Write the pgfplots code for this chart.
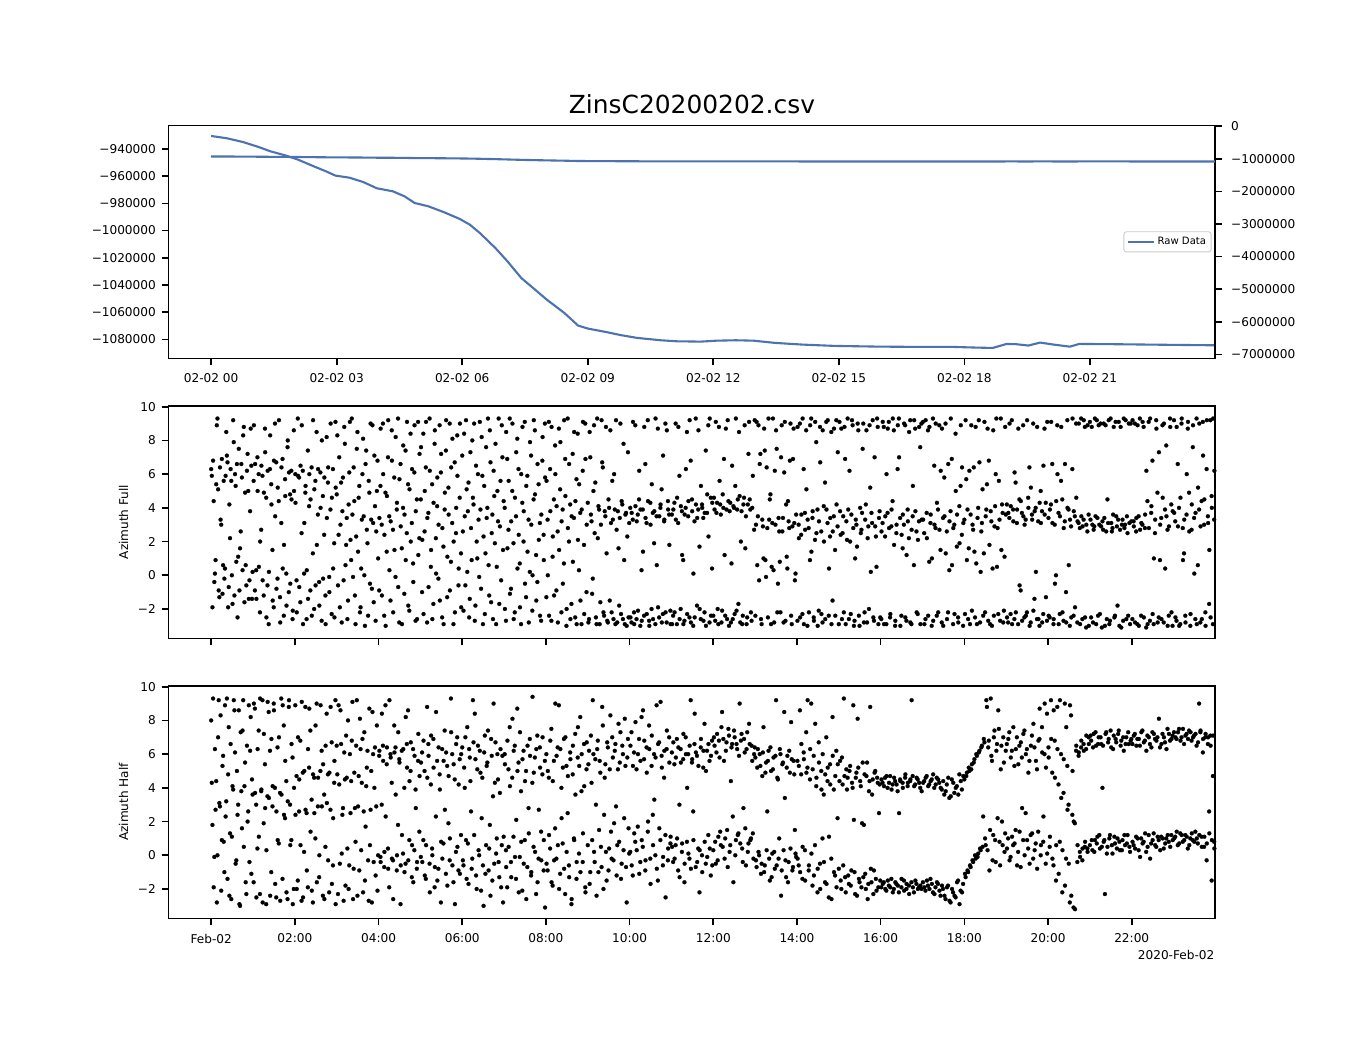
\documentclass[border=0pt]{standalone}
\usepackage{fontspec}
\setmainfont{DejaVu Sans}
\usepackage{pgfplots}
\usepackage{pgfplotstable}
\pgfplotsset{compat=1.18}
\definecolor{rawblue}{RGB}{76,114,176}
\newcommand\tickfont{\fontsize{12.1}{14}\selectfont}
\newcommand\titlefont{\fontsize{24.9}{28}\selectfont}
\newcommand\legfont{\fontsize{10.1}{12}\selectfont}

\pgfplotstableread{
h v
0 -930440
0.377 -932150
0.755 -934850
1.13 -938530
1.415 -941720
1.79 -944900
2.075 -947850
2.45 -952750
2.74 -956400
2.97 -959600
3.30 -961100
3.63 -964270
3.96 -968930
4.34 -971140
4.62 -974800
4.86 -979700
5.19 -982170
5.57 -986580
5.94 -991480
6.18 -995650
6.42 -1001780
6.79 -1012810
7.08 -1022620
7.41 -1034870
7.74 -1043460
8.02 -1050810
8.44 -1060620
8.77 -1069930
9.01 -1072140
9.43 -1074590
9.81 -1077040
10.19 -1079000
10.75 -1080720
11.13 -1081460
11.70 -1081700
12.08 -1081000
12.54 -1080700
12.96 -1081000
13.48 -1082650
14.14 -1083900
14.90 -1084850
15.94 -1085370
16.98 -1085600
17.73 -1085600
18.30 -1086100
18.68 -1086350
19.01 -1083400
19.24 -1083600
19.53 -1084600
19.81 -1082400
20.14 -1083900
20.52 -1085400
20.75 -1083400
21.60 -1083600
23.02 -1084100
23.99 -1084400
}\rawdata

\pgfplotsset{
  base/.style={
    scale only axis, width=1046.5pt,
    xmin=-1.02, xmax=23.99,
    axis line style={line width=1.6pt},
    tick style={line width=1.6pt, black},
    major tick length=7pt, tick align=outside,
    xtick pos=left,
    scaled x ticks=false, scaled y ticks=false,
    ticklabel style={font=\tickfont, inner sep=0pt},
    xticklabel style={anchor=north, yshift=-8.5pt},
  },
  leftax/.style={ytick pos=left, yticklabel style={anchor=east, xshift=-5.5pt}},
  dots/.style={only marks, mark=*, mark size=2pt, black, mark options={line width=0.2pt}},
}

\begin{document}
\begin{tikzpicture}
\path[use as bounding box, fill=white] (0,0) rectangle (1350pt,-1050pt);
\node[anchor=base, font=\titlefont, inner sep=0pt] at (692pt,-113.3pt) {ZinsC20200202.csv};

% ---------- top panel, left axis ----------
\begin{axis}[base, leftax, at={(168.5pt,-358.3pt)}, anchor=south west, height=233pt,
  ymin=-1093970, ymax=-922600,
  xtick={0,3,6,9,12,15,18,21},
  xticklabels={02-02 00,02-02 03,02-02 06,02-02 09,02-02 12,02-02 15,02-02 18,02-02 21},
  ytick={-940000,-960000,-980000,-1000000,-1020000,-1040000,-1060000,-1080000},
  yticklabels={−940000,−960000,−980000,−1000000,−1020000,−1040000,−1060000,−1080000}]
\addplot[rawblue, line width=2.1pt] table {\rawdata};
\end{axis}

% ---------- top panel, right axis ----------
\begin{axis}[scale only axis, width=1046.5pt, height=233pt, at={(168.5pt,-358.3pt)}, anchor=south west,
  xmin=-1.02, xmax=23.99, hide x axis, axis y line*=right,
  ymin=-7122700, ymax=25000, scaled y ticks=false,
  axis line style={line width=1.6pt}, tick style={line width=1.6pt, black},
  major tick length=7pt, tick align=outside,
  ytick={0,-1000000,-2000000,-3000000,-4000000,-5000000,-6000000,-7000000},
  yticklabels={0,−1000000,−2000000,−3000000,−4000000,−5000000,−6000000,−7000000},
  yticklabel style={font=\tickfont, inner sep=0pt, anchor=west, xshift=9pt},
  legend style={at={(0.9967,0.5)}, anchor=east, font=\legfont, draw=black!20, line width=0.9pt,
    rounded corners=2.5pt, fill=white, inner xsep=3pt, inner ysep=3.6pt},
  legend image code/.code={\draw[#1] (0pt,0pt) -- (21pt,0pt); \path (-0.5pt,0pt) -- (26pt,0pt);},
  legend cell align=left]
\addplot[rawblue, line width=2.1pt] table {\rawdata};
\addlegendentry{Raw Data}
\end{axis}

% ---------- middle panel ----------
\begin{axis}[base, leftax, at={(168.5pt,-638.3pt)}, anchor=south west, height=232.6pt,
  ymin=-3.74, ymax=10.06,
  xtick={0,2,4,6,8,10,12,14,16,18,20,22}, xticklabels={},
  ytick={-2,0,2,4,6,8,10}, yticklabels={−2,0,2,4,6,8,10}]
\addplot[dots] coordinates {
(0.00,6.3)(0.03,-1.9)(0.06,4.4)(0.09,0.1)(0.12,5.4)(0.15,9.3)(0.18,-0.9)(0.21,6.4)(0.24,3.0)(0.27,-1.1)(0.30,5.6)(0.33,0.4)(0.36,8.5)(0.39,6.7)(0.42,-0.7)(0.45,2.2)(0.48,5.6)(0.51,-1.7)(0.54,7.9)(0.57,6.0)(0.60,0.8)(0.63,-2.5)(0.66,7.5)(0.69,1.6)(0.72,6.6)(0.75,0.3)(0.78,8.8)(0.81,4.9)(0.84,-0.6)(0.87,7.2)(0.90,-1.4)(0.93,3.8)(0.96,6.5)(0.99,0.2)
(1.02,8.9)(1.05,6.6)(1.08,-1.4)(1.11,5.0)(1.14,0.5)(1.17,2.0)(1.20,6.5)(1.23,-0.3)(1.26,4.9)(1.29,7.3)(1.32,-2.5)(1.35,6.2)(1.38,0.2)(1.41,8.3)(1.44,4.2)(1.47,-1.5)(1.50,6.8)(1.53,3.5)(1.56,-0.8)(1.59,5.2)(1.62,9.2)(1.65,-2.8)(1.68,6.4)(1.71,0.4)(1.74,1.8)(1.77,4.7)(1.80,-1.8)(1.83,8.0)(1.86,6.1)(1.89,-0.5)(1.92,4.5)(1.95,-2.1)(1.98,5.0)
(2.01,6.0)(2.04,-0.3)(2.07,9.3)(2.10,5.8)(2.13,-1.6)(2.16,2.5)(2.19,6.2)(2.22,0.1)(2.25,4.9)(2.28,-2.6)(2.31,7.4)(2.34,4.1)(2.37,-0.9)(2.40,6.4)(2.43,1.3)(2.46,-2.0)(2.49,5.6)(2.52,8.5)(2.55,3.6)(2.58,-0.4)(2.61,6.1)(2.64,-2.7)(2.67,4.7)(2.70,2.4)(2.73,-1.2)(2.76,8.2)(2.79,5.5)(2.82,-0.1)(2.85,3.9)(2.88,-2.3)(2.91,6.3)(2.94,1.9)(2.97,9.1)
(3.00,4.8)(3.03,-0.6)(3.06,7.0)(3.09,3.0)(3.12,-2.8)(3.15,5.8)(3.18,8.8)(3.21,0.6)(3.24,3.4)(3.27,-1.5)(3.30,6.1)(3.33,2.1)(3.36,9.3)(3.39,-0.1)(3.42,4.4)(3.45,-2.9)(3.48,7.5)(3.51,1.4)(3.54,5.3)(3.57,-1.9)(3.60,3.3)(3.63,8.1)(3.66,0.0)(3.69,6.6)(3.72,2.7)(3.75,-2.4)(3.78,4.9)(3.81,9.0)(3.84,-0.8)(3.87,3.1)(3.90,7.1)(3.93,-2.7)(3.96,5.0)(3.99,1.0)
(4.02,3.4)(4.05,8.7)(4.08,-1.2)(4.11,6.0)(4.14,2.4)(4.17,-3.0)(4.20,4.7)(4.23,9.2)(4.26,0.3)(4.29,3.2)(4.32,6.8)(4.35,-2.2)(4.38,1.5)(4.41,8.2)(4.44,4.3)(4.47,-0.7)(4.50,5.7)(4.53,2.9)(4.56,-2.9)(4.59,7.7)(4.62,3.6)(4.65,0.9)(4.68,9.1)(4.71,-1.8)(4.74,5.1)(4.77,2.0)(4.80,6.3)(4.83,-0.4)(4.86,8.9)(4.89,3.8)(4.92,-2.6)(4.95,1.2)(4.98,7.2)
(5.01,4.5)(5.04,-1.0)(5.07,8.4)(5.10,2.6)(5.13,6.4)(5.16,-2.8)(5.19,3.7)(5.22,9.3)(5.25,0.5)(5.28,5.4)(5.31,-1.7)(5.34,7.8)(5.37,2.2)(5.40,4.1)(5.43,-0.2)(5.46,8.9)(5.49,6.1)(5.52,-2.5)(5.55,1.7)(5.58,3.9)(5.61,7.4)(5.64,-1.3)(5.67,5.2)(5.70,9.0)(5.73,0.8)(5.76,3.1)(5.79,-2.9)(5.82,6.7)(5.85,2.5)(5.88,8.3)(5.91,-0.6)(5.94,4.6)(5.97,1.3)
(6.00,7.1)(6.03,-2.1)(6.06,3.5)(6.09,9.2)(6.12,0.2)(6.15,5.5)(6.18,-1.4)(6.21,2.8)(6.24,8.0)(6.27,4.2)(6.30,-2.7)(6.33,6.5)(6.36,1.0)(6.39,3.3)(6.42,9.1)(6.45,-0.8)(6.48,5.9)(6.51,2.3)(6.54,-2.3)(6.57,7.6)(6.60,4.0)(6.63,0.6)(6.66,8.6)(6.69,-1.6)(6.72,3.6)(6.75,6.2)(6.78,1.9)(6.81,-2.9)(6.84,5.0)(6.87,9.3)(6.90,2.9)(6.93,-0.3)(6.96,7.0)(6.99,4.4)
(7.02,-2.0)(7.05,8.5)(7.08,1.6)(7.11,5.6)(7.14,-1.1)(7.17,3.2)(7.20,9.0)(7.23,-2.6)(7.26,4.6)(7.29,7.3)(7.32,0.4)(7.35,2.4)(7.38,-1.9)(7.41,6.0)(7.44,8.8)(7.47,3.8)(7.50,-0.5)(7.53,5.3)(7.56,1.4)(7.59,-2.8)(7.62,7.9)(7.65,3.0)(7.68,0.0)(7.71,9.2)(7.74,4.8)(7.77,-1.5)(7.80,6.6)(7.83,2.1)(7.86,-2.4)(7.89,3.6)(7.92,8.2)(7.95,0.9)(7.98,5.8)
(8.01,-1.3)(8.04,3.3)(8.07,9.1)(8.10,6.3)(8.13,-2.7)(8.16,1.1)(8.19,4.5)(8.22,7.7)(8.25,-0.9)(8.28,2.6)(8.31,8.7)(8.34,5.1)(8.37,-2.2)(8.40,3.9)(8.43,0.7)(8.46,6.9)(8.49,-3.0)(8.52,9.3)(8.55,2.0)(8.58,4.2)(8.61,-1.7)(8.64,7.2)(8.67,3.4)(8.70,-2.5)(8.73,5.7)(8.76,8.4)(8.79,0.3)(8.82,3.7)(8.85,-2.9)(8.88,6.2)(8.91,1.8)(8.94,9.0)(8.97,-1.0)
(9.00,4.3)(9.03,-2.6)(9.06,7.0)(9.09,3.2)(9.12,-0.2)(9.15,8.9)(9.18,5.5)(9.21,-2.9)(9.24,2.2)(9.27,3.9)(9.30,-1.6)(9.33,9.2)(9.36,6.4)(9.39,-2.4)(9.42,3.5)(9.45,1.3)(9.48,-2.8)(9.51,4.0)(9.54,8.6)(9.57,-2.2)(9.60,3.3)(9.63,6.0)(9.66,-2.9)(9.69,2.7)(9.72,3.8)(9.75,-1.8)(9.78,9.0)(9.81,4.4)(9.84,-2.6)(9.87,0.9)(9.90,3.6)(9.93,-3.0)(9.96,7.3)(9.99,3.1)
(10.02,-2.5)(10.05,3.7)(10.08,9.1)(10.11,-2.9)(10.14,4.1)(10.17,3.2)(10.20,-2.1)(10.23,6.2)(10.26,3.9)(10.29,-2.7)(10.32,1.4)(10.35,8.8)(10.38,3.4)(10.41,-2.3)(10.44,4.4)(10.47,-3.0)(10.50,3.0)(10.53,5.4)(10.56,-2.6)(10.59,3.8)(10.62,9.3)(10.65,0.6)(10.68,-1.9)(10.71,3.5)(10.74,4.2)(10.77,-2.8)(10.80,7.1)(10.83,3.3)(10.86,-2.2)(10.89,8.6)(10.92,3.9)(10.95,1.8)(10.98,-2.9)
(11.01,3.6)(11.04,-2.4)(11.07,4.3)(11.10,9.0)(11.13,-2.9)(11.16,3.1)(11.19,5.9)(11.22,-2.0)(11.25,3.8)(11.28,0.9)(11.31,-2.7)(11.34,4.0)(11.37,8.5)(11.40,3.5)(11.43,-2.5)(11.46,6.8)(11.49,4.5)(11.52,-3.0)(11.55,3.2)(11.58,9.3)(11.61,-1.8)(11.64,3.9)(11.67,1.7)(11.70,-2.6)(11.73,4.2)(11.76,3.4)(11.79,-2.2)(11.82,7.4)(11.85,3.7)(11.88,8.9)(11.91,-2.8)(11.94,4.6)(11.97,0.4)
(12.00,-2.4)(12.03,3.9)(12.06,9.1)(12.09,4.3)(12.12,-2.9)(12.15,5.6)(12.18,3.6)(12.21,-2.1)(12.24,4.0)(12.27,1.2)(12.30,8.7)(12.33,-2.6)(12.36,4.4)(12.39,3.8)(12.42,-2.8)(12.45,6.5)(12.48,4.1)(12.51,-2.3)(12.54,9.3)(12.57,3.9)(12.60,-1.7)(12.63,4.7)(12.66,2.0)(12.69,-2.9)(12.72,4.2)(12.75,8.9)(12.78,3.5)(12.81,-2.5)(12.84,7.2)(12.87,4.5)(12.90,-2.2)(12.93,4.0)
(12.99,9.2)(13.02,3.0)(13.05,0.6)(13.08,8.9)(13.11,6.6)(13.14,-2.6)(13.17,3.3)(13.20,1.0)(13.23,7.4)(13.26,-0.1)(13.29,2.8)(13.32,9.3)(13.35,4.5)(13.38,-2.9)(13.41,3.1)(13.44,0.3)(13.47,6.2)(13.50,8.6)(13.53,-2.2)(13.56,3.4)(13.59,0.8)(13.62,7.0)(13.65,2.6)(13.68,-2.8)(13.71,9.1)(13.74,4.2)(13.77,0.4)(13.80,3.2)(13.83,6.8)(13.86,-2.4)(13.89,2.9)(13.92,8.7)(13.95,-0.3)(13.98,3.6)
(14.01,-2.7)(14.04,3.0)(14.07,9.0)(14.10,2.4)(14.13,-2.3)(14.16,6.3)(14.19,3.7)(14.22,8.6)(14.25,-3.0)(14.28,2.8)(14.31,0.9)(14.34,9.3)(14.37,3.4)(14.40,-2.5)(14.43,2.1)(14.46,7.9)(14.49,3.9)(14.52,-2.1)(14.55,8.8)(14.58,2.6)(14.61,-2.8)(14.64,4.1)(14.67,5.5)(14.70,9.1)(14.73,3.1)(14.76,-2.4)(14.79,2.3)(14.82,8.5)(14.85,-1.5)(14.88,3.5)(14.91,1.5)(14.94,9.2)(14.97,2.9)
(15.00,-2.9)(15.03,3.8)(15.06,8.7)(15.09,2.5)(15.12,-2.2)(15.15,6.9)(15.18,3.2)(15.21,9.3)(15.24,-2.6)(15.27,2.0)(15.30,3.6)(15.33,8.9)(15.36,-3.0)(15.39,1.0)(15.42,3.0)(15.45,9.0)(15.48,-2.4)(15.51,4.0)(15.54,2.7)(15.57,7.5)(15.60,-2.8)(15.63,3.3)(15.66,8.6)(15.69,2.2)(15.72,-2.0)(15.75,5.2)(15.78,3.7)(15.81,9.2)(15.84,-2.7)(15.87,2.9)(15.90,0.5)(15.93,8.8)(15.96,3.4)(15.99,-2.5)
(16.02,2.6)(16.05,9.1)(16.08,-2.9)(16.11,3.5)(16.14,6.0)(16.17,8.7)(16.20,2.8)(16.23,-2.3)(16.26,3.9)(16.29,9.3)(16.32,1.8)(16.35,-2.7)(16.38,3.0)(16.41,8.9)(16.44,7.0)(16.47,-3.0)(16.50,2.4)(16.53,3.6)(16.56,9.0)(16.59,-2.5)(16.62,1.2)(16.65,3.2)(16.68,8.5)(16.71,-2.8)(16.74,2.7)(16.77,5.3)(16.80,9.2)(16.83,3.8)(16.86,-2.2)(16.89,2.1)(16.92,8.8)(16.95,-2.9)(16.98,3.3)
(17.01,9.1)(17.04,2.5)(17.07,-2.6)(17.10,3.7)(17.13,8.6)(17.16,0.8)(17.19,3.1)(17.22,-3.0)(17.25,9.3)(17.28,6.5)(17.31,2.8)(17.34,-2.4)(17.37,3.9)(17.40,8.9)(17.43,1.5)(17.46,-2.8)(17.49,3.4)(17.52,5.8)(17.55,9.0)(17.58,2.6)(17.61,-2.2)(17.64,0.3)(17.67,3.8)(17.70,6.9)(17.73,-2.9)(17.76,3.0)(17.79,8.4)(17.82,1.7)(17.85,-2.5)(17.88,4.1)(17.91,5.3)(17.94,2.4)(17.97,-3.0)
(18.00,3.3)(18.03,9.2)(18.06,0.9)(18.09,-2.6)(18.12,6.2)(18.15,3.6)(18.18,-2.1)(18.21,2.7)(18.24,1.4)(18.27,8.8)(18.30,-2.9)(18.33,4.0)(18.36,6.7)(18.39,0.2)(18.42,3.1)(18.45,-2.4)(18.48,9.1)(18.51,3.5)(18.54,5.4)(18.57,-2.7)(18.60,1.8)(18.63,3.8)(18.66,-3.0)(18.69,8.6)(18.72,2.9)(18.75,6.0)(18.78,0.5)(18.81,-2.3)(18.84,3.3)(18.87,9.3)(18.90,4.2)(18.93,-2.8)(18.96,1.1)(18.99,3.6)
(19.02,-2.5)(19.05,3.7)(19.08,9.0)(19.11,4.1)(19.14,-2.9)(19.17,3.2)(19.20,6.1)(19.23,-2.2)(19.26,3.9)(19.29,8.7)(19.32,-0.6)(19.35,4.4)(19.38,-2.7)(19.41,3.5)(19.44,3.0)(19.47,-2.4)(19.50,9.2)(19.53,4.0)(19.56,-3.0)(19.59,5.2)(19.62,3.3)(19.65,-2.1)(19.68,3.8)(19.71,0.2)(19.74,8.8)(19.77,-2.6)(19.80,4.3)(19.83,3.1)(19.86,-2.8)(19.89,6.5)(19.92,3.6)(19.95,-1.3)(19.98,9.1)
(20.01,3.4)(20.04,-2.5)(20.07,4.2)(20.10,6.6)(20.13,-2.9)(20.16,3.0)(20.19,0.0)(20.22,8.9)(20.25,3.7)(20.28,-2.3)(20.31,5.6)(20.34,4.5)(20.37,-2.7)(20.40,3.2)(20.43,-1.0)(20.46,9.2)(20.49,3.9)(20.52,-3.0)(20.55,2.9)(20.58,6.3)(20.61,-2.4)(20.64,3.5)(20.67,9.0)(20.70,-2.8)(20.73,3.1)(20.76,2.8)(20.79,9.3)(20.82,-2.6)(20.85,3.3)(20.88,8.8)(20.91,-3.1)(20.94,2.6)(20.97,3.6)
(21.00,9.1)(21.03,-2.5)(21.06,3.0)(21.09,2.7)(21.12,9.3)(21.15,-2.9)(21.18,3.4)(21.21,8.9)(21.24,-2.3)(21.27,2.9)(21.30,3.2)(21.33,9.0)(21.36,-3.0)(21.39,2.6)(21.42,4.5)(21.45,9.2)(21.48,-2.7)(21.51,3.1)(21.54,2.8)(21.57,8.8)(21.60,-2.4)(21.63,3.5)(21.66,-1.8)(21.69,9.1)(21.72,2.7)(21.75,-3.1)(21.78,3.3)(21.81,9.3)(21.84,3.0)(21.87,-2.6)(21.90,2.5)(21.93,9.0)(21.96,-2.9)(21.99,3.2)
(22.02,9.2)(22.05,2.9)(22.08,-2.8)(22.11,3.4)(22.14,8.9)(22.17,-3.0)(22.20,2.7)(22.23,3.1)(22.26,9.1)(22.29,-2.5)(22.32,3.6)(22.35,6.2)(22.38,-2.9)(22.41,2.8)(22.44,9.3)(22.47,4.1)(22.50,-2.3)(22.53,1.0)(22.56,3.3)(22.59,8.7)(22.62,-2.8)(22.65,7.3)(22.68,3.0)(22.71,-2.6)(22.74,4.6)(22.77,9.0)(22.80,0.4)(22.83,3.5)(22.86,-3.0)(22.89,2.9)(22.92,8.8)(22.95,-2.2)(22.98,3.8)
(23.01,9.2)(23.04,3.2)(23.07,-2.7)(23.10,6.6)(23.13,4.0)(23.16,-2.9)(23.19,9.0)(23.22,2.8)(23.25,1.3)(23.28,-2.4)(23.31,3.6)(23.34,8.7)(23.37,4.9)(23.40,-3.0)(23.43,2.7)(23.46,7.6)(23.49,3.4)(23.52,-2.6)(23.55,9.3)(23.58,0.6)(23.61,3.9)(23.64,-2.8)(23.67,4.4)(23.70,9.1)(23.73,3.0)(23.76,-2.2)(23.79,6.3)(23.82,3.5)(23.85,-1.7)(23.88,9.2)(23.91,4.7)(23.94,-2.9)(23.97,3.3)
};
\addplot[dots] coordinates {
(0.015,5.9)(0.045,6.8)(0.075,-0.4)(0.105,0.9)(0.135,8.9)(0.165,5.1)(0.195,-1.3)(0.225,3.3)(0.255,6.9)(0.285,0.6)(0.315,-0.2)(0.345,5.9)(0.375,7.1)(0.405,-1.9)(0.435,4.2)(0.465,6.3)(0.495,0.0)(0.525,9.2)(0.555,-1.2)(0.585,5.3)(0.615,6.6)(0.645,1.1)(0.675,-0.9)(0.705,2.6)(0.735,5.8)(0.765,8.3)(0.795,-1.6)(0.825,0.6)(0.855,6.2)(0.885,5.0)(0.915,-0.3)(0.945,8.7)(0.975,-1.4)
(1.015,5.6)(1.045,-0.9)(1.075,0.3)(1.105,7.0)(1.135,6.0)(1.165,-2.2)(1.195,2.7)(1.225,5.9)(1.255,-1.2)(1.285,8.7)(1.315,4.6)(1.345,-0.6)(1.375,-2.9)(1.405,6.3)(1.435,5.4)(1.465,1.5)(1.495,-1.9)(1.525,9.0)(1.555,6.7)(1.585,-0.2)(1.615,4.4)(1.645,-1.3)(1.675,3.1)(1.705,6.9)(1.735,-2.4)(1.765,5.7)(1.795,0.1)(1.825,7.6)(1.855,-1.0)(1.885,4.8)(1.915,6.2)(1.945,-2.6)(1.975,8.6)
(2.015,4.3)(2.045,-2.2)(2.075,5.9)(2.105,-0.7)(2.135,6.5)(2.165,8.9)(2.195,-2.9)(2.225,3.1)(2.255,5.3)(2.285,0.3)(2.315,-1.4)(2.345,6.0)(2.375,4.5)(2.405,-2.4)(2.435,9.2)(2.465,5.1)(2.495,-0.6)(2.525,1.8)(2.555,6.3)(2.585,-1.8)(2.615,4.0)(2.645,8.0)(2.675,-0.2)(2.705,5.8)(2.735,-2.9)(2.765,3.4)(2.795,6.4)(2.825,-1.0)(2.855,9.0)(2.885,4.6)(2.915,0.4)(2.945,-2.5)(2.975,5.2)
(3.015,8.3)(3.045,2.4)(3.075,-1.9)(3.105,5.5)(3.135,3.8)(3.165,-0.3)(3.195,7.8)(3.225,1.8)(3.255,-2.6)(3.285,4.2)(3.315,9.1)(3.345,0.9)(3.375,3.6)(3.405,6.4)(3.435,-1.2)(3.465,2.3)(3.495,8.5)(3.525,4.6)(3.555,-2.2)(3.585,0.4)(3.615,6.0)(3.645,3.5)(3.675,-3.0)(3.705,7.4)(3.735,1.9)(3.765,5.6)(3.795,-0.5)(3.825,3.3)(3.855,8.9)(3.885,-1.6)(3.915,4.1)(3.945,2.6)(3.975,6.8)
(4.015,-0.9)(4.045,5.3)(4.075,3.0)(4.105,9.0)(4.135,-2.4)(4.165,4.9)(4.195,1.4)(4.225,7.0)(4.255,3.5)(4.285,-1.5)(4.315,8.6)(4.345,2.7)(4.375,5.8)(4.405,-0.1)(4.435,3.9)(4.465,9.3)(4.495,-2.8)(4.525,6.6)(4.555,1.6)(4.585,4.0)(4.615,-1.1)(4.645,7.4)(4.675,2.5)(4.705,5.4)(4.735,-2.1)(4.765,8.4)(4.795,3.1)(4.825,0.7)(4.855,6.1)(4.885,-2.7)(4.915,4.5)(4.945,9.1)(4.975,2.2)
(5.015,7.6)(5.045,2.1)(5.075,-2.3)(5.105,5.0)(5.135,9.1)(5.165,3.4)(5.195,-0.7)(5.225,6.2)(5.255,1.5)(5.285,-2.6)(5.315,4.3)(5.345,8.6)(5.375,0.1)(5.405,5.8)(5.435,3.0)(5.465,-1.5)(5.495,7.2)(5.525,2.8)(5.555,-2.9)(5.585,4.9)(5.615,9.2)(5.645,1.1)(5.675,3.6)(5.705,-0.9)(5.735,6.4)(5.765,8.1)(5.795,2.0)(5.825,-2.2)(5.855,4.0)(5.885,5.9)(5.915,0.4)(5.945,9.0)(5.975,-1.9)
(6.015,2.6)(6.045,8.4)(6.075,-0.6)(6.105,5.1)(6.135,3.8)(6.165,-2.5)(6.195,7.3)(6.225,0.9)(6.255,4.6)(6.285,9.0)(6.315,-1.8)(6.345,2.0)(6.375,6.0)(6.405,-0.1)(6.435,3.9)(6.465,8.2)(6.495,-2.9)(6.525,5.3)(6.555,1.3)(6.585,3.4)(6.615,9.3)(6.645,-1.2)(6.675,6.7)(6.705,2.5)(6.735,-2.6)(6.765,4.7)(6.795,7.8)(6.825,0.5)(6.855,3.2)(6.885,-1.7)(6.915,5.6)(6.945,8.9)(6.975,1.5)
(7.015,4.0)(7.045,-2.7)(7.075,6.9)(7.105,2.7)(7.135,9.3)(7.165,-0.8)(7.195,5.0)(7.225,1.9)(7.255,-2.2)(7.285,3.5)(7.315,8.1)(7.345,6.3)(7.375,0.7)(7.405,-2.9)(7.435,4.3)(7.465,2.0)(7.495,9.1)(7.525,-1.3)(7.555,5.9)(7.585,3.3)(7.615,0.2)(7.645,7.1)(7.675,-2.1)(7.705,4.5)(7.735,8.6)(7.765,1.2)(7.795,-0.4)(7.825,5.4)(7.855,3.1)(7.885,-2.7)(7.915,6.8)(7.945,2.4)(7.975,9.0)
(8.015,5.6)(8.045,0.0)(8.075,-2.4)(8.105,3.8)(8.135,8.8)(8.165,2.3)(8.195,-1.2)(8.225,6.0)(8.255,4.1)(8.285,-2.8)(8.315,1.5)(8.345,7.9)(8.375,3.2)(8.405,-0.5)(8.435,9.2)(8.465,4.7)(8.495,-2.0)(8.525,2.8)(8.555,6.6)(8.585,-2.6)(8.615,3.5)(8.645,0.8)(8.675,8.5)(8.705,4.4)(8.735,-2.9)(8.765,2.1)(8.795,5.4)(8.825,-1.5)(8.855,3.9)(8.885,9.1)(8.915,-2.3)(8.945,6.9)(8.975,3.0)
(9.015,-2.8)(9.045,8.5)(9.075,3.6)(9.105,-1.1)(9.135,5.0)(9.165,2.5)(9.195,-2.5)(9.225,9.3)(9.255,4.1)(9.285,-2.9)(9.315,3.0)(9.345,6.7)(9.375,-2.2)(9.405,3.8)(9.435,8.8)(9.465,-2.7)(9.495,4.5)(9.525,-1.5)(9.555,3.1)(9.585,5.6)(9.615,-2.6)(9.645,3.9)(9.675,9.2)(9.705,-2.8)(9.735,1.6)(9.765,3.4)(9.795,-2.3)(9.825,4.2)(9.855,7.8)(9.885,-2.9)(9.915,3.7)(9.945,2.3)(9.975,-2.5)
(10.015,4.0)(10.045,-2.8)(10.075,3.3)(10.105,-2.2)(10.135,8.9)(10.165,-2.6)(10.195,3.6)(10.225,4.5)(10.255,-3.0)(10.285,0.3)(10.315,3.9)(10.345,-2.4)(10.375,6.6)(10.405,3.1)(10.435,9.2)(10.465,-2.7)(10.495,4.3)(10.525,-2.0)(10.555,3.7)(10.585,1.9)(10.615,-2.9)(10.645,3.5)(10.675,8.7)(10.705,-2.5)(10.735,4.0)(10.765,5.1)(10.795,-2.3)(10.825,3.2)(10.855,9.0)(10.885,-2.8)(10.915,4.4)(10.945,3.6)(10.975,-2.1)
(11.015,-2.9)(11.045,3.9)(11.075,-2.2)(11.105,3.3)(11.135,4.6)(11.165,8.8)(11.195,-2.6)(11.225,4.1)(11.255,1.2)(11.285,-2.9)(11.315,3.6)(11.345,6.3)(11.375,-2.3)(11.405,4.4)(11.435,9.2)(11.465,-2.8)(11.495,3.8)(11.525,0.1)(11.555,-2.5)(11.585,4.2)(11.615,3.4)(11.645,8.6)(11.675,-2.0)(11.705,5.3)(11.735,4.0)(11.765,-2.7)(11.795,3.7)(11.825,-3.0)(11.855,4.8)(11.885,2.3)(11.915,9.3)(11.945,-2.4)(11.975,4.3)
(12.015,4.6)(12.045,-2.7)(12.075,3.7)(12.105,-2.0)(12.135,8.8)(12.165,4.2)(12.195,-2.8)(12.225,4.8)(12.255,6.9)(12.285,-2.4)(12.315,3.9)(12.345,9.2)(12.375,-3.0)(12.405,4.3)(12.435,0.7)(12.465,-2.6)(12.495,4.0)(12.525,5.3)(12.555,-2.1)(12.585,4.5)(12.615,8.5)(12.645,-2.8)(12.675,3.8)(12.705,-2.4)(12.735,4.6)(12.765,1.6)(12.795,-2.9)(12.825,4.2)(12.855,9.1)(12.885,3.9)(12.915,-2.7)(12.945,5.9)
(12.975,2.7)(13.005,-2.4)(13.035,9.1)(13.065,3.5)(13.095,-0.3)(13.125,7.2)(13.155,-2.9)(13.185,2.9)(13.215,8.7)(13.245,0.9)(13.275,6.4)(13.305,-2.5)(13.335,3.3)(13.365,4.8)(13.395,0.5)(13.425,9.3)(13.455,-2.8)(13.485,3.0)(13.515,7.5)(13.545,-0.5)(13.575,2.6)(13.605,-2.2)(13.635,8.9)(13.665,3.4)(13.695,6.1)(13.725,-2.7)(13.755,1.1)(13.785,4.4)(13.815,2.8)(13.845,9.0)(13.875,-2.9)(13.905,6.9)(13.935,3.1)(13.965,0.1)
(14.015,8.8)(14.045,2.2)(14.075,-2.5)(14.105,3.6)(14.135,9.3)(14.165,-2.9)(14.195,2.7)(14.225,5.1)(14.255,3.3)(14.285,-2.2)(14.315,8.9)(14.345,1.4)(14.375,3.8)(14.405,-2.7)(14.435,9.1)(14.465,2.5)(14.495,-3.0)(14.525,3.2)(14.555,6.7)(14.585,-2.3)(14.615,8.6)(14.645,2.0)(14.675,-2.6)(14.705,3.9)(14.735,9.2)(14.765,0.4)(14.795,3.4)(14.825,-2.9)(14.855,2.6)(14.885,8.7)(14.915,-2.4)(14.945,4.2)(14.975,7.3)
(15.015,9.1)(15.045,2.4)(15.075,-2.6)(15.105,3.5)(15.135,8.8)(15.165,-2.9)(15.195,2.1)(15.225,3.9)(15.255,6.2)(15.285,-2.3)(15.315,9.2)(15.345,2.8)(15.375,-2.7)(15.405,3.3)(15.435,1.7)(15.465,8.6)(15.495,-3.0)(15.525,2.5)(15.555,3.7)(15.585,9.0)(15.615,-2.2)(15.645,4.2)(15.675,-2.8)(15.705,2.9)(15.735,8.9)(15.765,0.2)(15.795,3.1)(15.825,-2.5)(15.855,7.0)(15.885,2.3)(15.915,9.3)(15.945,-2.9)(15.975,3.8)
(16.015,-2.6)(16.045,3.1)(16.075,8.8)(16.105,2.3)(16.135,-2.9)(16.165,3.7)(16.195,9.1)(16.225,-2.5)(16.255,2.9)(16.285,4.4)(16.315,8.6)(16.345,-3.0)(16.375,2.5)(16.405,6.3)(16.435,9.3)(16.465,3.4)(16.495,-2.4)(16.525,1.6)(16.555,3.0)(16.585,8.9)(16.615,-2.7)(16.645,3.9)(16.675,2.2)(16.705,9.2)(16.735,-2.9)(16.765,3.5)(16.795,0.6)(16.825,8.7)(16.855,2.6)(16.885,-2.3)(16.915,3.2)(16.945,7.6)(16.975,9.0)
(17.015,3.3)(17.045,-2.9)(17.075,9.2)(17.105,2.2)(17.135,-2.4)(17.165,8.8)(17.195,3.6)(17.225,1.0)(17.255,-2.7)(17.285,3.0)(17.315,9.0)(17.345,4.3)(17.375,-2.2)(17.405,2.7)(17.435,6.2)(17.465,8.7)(17.495,-3.0)(17.525,3.5)(17.555,1.3)(17.585,-2.6)(17.615,6.6)(17.645,3.2)(17.675,9.3)(17.705,0.6)(17.735,2.8)(17.765,-2.3)(17.795,5.0)(17.825,3.6)(17.855,-2.8)(17.885,1.9)(17.915,8.9)(17.945,6.4)(17.975,3.1)
(18.015,-2.3)(18.045,5.7)(18.075,3.9)(18.105,1.6)(18.135,-2.9)(18.165,8.9)(18.195,3.0)(18.225,6.4)(18.255,-2.5)(18.285,0.7)(18.315,3.4)(18.345,9.2)(18.375,-2.8)(18.405,2.6)(18.435,5.1)(18.465,1.3)(18.495,-2.2)(18.525,3.9)(18.555,8.7)(18.585,6.8)(18.615,-2.9)(18.645,3.2)(18.675,0.4)(18.705,-2.4)(18.735,4.1)(18.765,9.3)(18.795,2.8)(18.825,5.6)(18.855,-2.7)(18.885,1.5)(18.915,3.7)(18.945,-2.1)(18.975,8.8)
(19.015,4.2)(19.045,-2.8)(19.075,3.4)(19.105,-2.3)(19.135,9.2)(19.165,3.9)(19.195,-2.6)(19.225,5.5)(19.255,3.1)(19.285,-2.9)(19.315,4.5)(19.345,-0.9)(19.375,3.7)(19.405,8.9)(19.435,-2.5)(19.465,3.3)(19.495,-2.2)(19.525,4.6)(19.555,6.4)(19.585,-2.8)(19.615,3.6)(19.645,9.0)(19.675,-1.4)(19.705,4.0)(19.735,-2.6)(19.765,3.2)(19.795,-3.0)(19.825,5.0)(19.855,3.8)(19.885,-2.3)(19.915,8.7)(19.945,4.3)(19.975,-2.7)
(20.015,-2.4)(20.045,3.9)(20.075,9.1)(20.105,3.1)(20.135,-2.6)(20.165,-0.5)(20.195,4.4)(20.225,6.0)(20.255,-2.9)(20.285,3.5)(20.315,8.8)(20.345,-2.2)(20.375,2.8)(20.405,6.6)(20.435,-2.8)(20.465,4.0)(20.495,0.6)(20.525,3.3)(20.555,-2.5)(20.585,9.3)(20.615,3.8)(20.645,-1.9)(20.675,4.6)(20.705,3.2)(20.735,9.0)(20.765,-2.9)(20.795,3.5)(20.825,2.9)(20.855,9.2)(20.885,-2.5)(20.915,3.0)(20.945,8.9)(20.975,-3.0)
(21.015,3.3)(21.045,8.8)(21.075,-2.8)(21.105,2.9)(21.135,3.5)(21.165,9.2)(21.195,-2.4)(21.225,3.0)(21.255,9.0)(21.285,-3.1)(21.315,2.7)(21.345,3.4)(21.375,8.9)(21.405,-2.6)(21.435,3.1)(21.465,-2.9)(21.495,9.3)(21.525,2.6)(21.555,3.6)(21.585,-2.5)(21.615,9.1)(21.645,2.9)(21.675,3.3)(21.705,-3.0)(21.735,8.8)(21.765,3.0)(21.795,-2.7)(21.825,2.8)(21.855,9.2)(21.885,3.5)(21.915,-2.4)(21.945,3.1)(21.975,9.0)
(22.015,-2.6)(22.045,3.2)(22.075,9.0)(22.105,2.6)(22.135,-2.9)(22.165,3.5)(22.195,9.3)(22.225,-2.4)(22.255,3.0)(22.285,8.8)(22.315,2.8)(22.345,-3.1)(22.375,4.4)(22.405,9.1)(22.435,-2.7)(22.465,3.7)(22.495,6.8)(22.525,-2.9)(22.555,2.5)(22.585,9.2)(22.615,4.9)(22.645,-2.5)(22.675,0.9)(22.705,3.4)(22.735,8.9)(22.765,-2.8)(22.795,3.9)(22.825,7.7)(22.855,2.7)(22.885,-2.4)(22.915,9.3)(22.945,4.2)(22.975,-3.0)
(23.015,3.7)(23.045,-2.5)(23.075,8.8)(23.105,2.9)(23.135,-3.0)(23.165,4.6)(23.195,9.3)(23.225,0.9)(23.255,3.3)(23.285,-2.8)(23.315,6.0)(23.345,9.1)(23.375,2.6)(23.405,-2.3)(23.435,4.2)(23.465,8.9)(23.495,0.1)(23.525,3.7)(23.555,-2.9)(23.585,5.2)(23.615,9.0)(23.645,2.9)(23.675,-2.6)(23.705,7.1)(23.735,4.5)(23.765,-3.0)(23.795,9.2)(23.825,3.1)(23.855,1.5)(23.885,-2.5)(23.915,4.0)(23.945,9.3)(23.975,6.2)
};
\end{axis}

% ---------- bottom panel ----------
\begin{axis}[base, leftax, at={(168.5pt,-918.3pt)}, anchor=south west, height=232.6pt,
  ymin=-3.74, ymax=10.06,
  xtick={0,2,4,6,8,10,12,14,16,18,20,22},
  xticklabels={Feb-02,02:00,04:00,06:00,08:00,10:00,12:00,14:00,16:00,18:00,20:00,22:00},
  ytick={-2,0,2,4,6,8,10}, yticklabels={−2,0,2,4,6,8,10}]
\addplot[dots] coordinates {
(0.00,8.0)(0.03,1.8)(0.06,-1.9)(0.09,6.3)(0.12,4.4)(0.15,0.0)(0.18,9.2)(0.21,2.9)(0.24,-2.1)(0.27,5.3)(0.30,0.8)(0.33,8.9)(0.36,3.2)(0.39,-1.4)(0.42,7.6)(0.45,1.3)(0.48,-2.6)(0.51,4.1)(0.54,9.2)(0.57,6.1)(0.60,-0.3)(0.63,2.4)(0.66,8.6)(0.69,-3.0)(0.72,3.8)(0.75,7.4)(0.78,0.5)(0.81,5.5)(0.84,-2.3)(0.87,2.0)(0.90,8.9)(0.93,6.2)(0.96,-1.1)(0.99,3.6)
(1.02,9.0)(1.05,3.7)(1.08,-2.5)(1.11,6.3)(1.14,1.1)(1.17,9.3)(1.20,3.9)(1.23,-2.8)(1.26,7.2)(1.29,2.8)(1.32,0.3)(1.35,9.1)(1.38,3.4)(1.41,-2.4)(1.44,6.9)(1.47,4.1)(1.50,8.6)(1.53,-1.7)(1.56,2.6)(1.59,0.9)(1.62,7.0)(1.65,-2.7)(1.68,3.6)(1.71,8.9)(1.74,2.4)(1.77,5.6)(1.80,-2.2)(1.83,3.2)(1.86,9.2)(1.89,0.6)(1.92,6.6)(1.95,-2.9)(1.98,4.0)
(2.01,8.9)(2.04,4.7)(2.07,-1.5)(2.10,2.6)(2.13,6.8)(2.16,-2.7)(2.19,4.9)(2.22,0.2)(2.25,8.8)(2.28,2.5)(2.31,-1.9)(2.34,5.2)(2.37,7.4)(2.40,3.3)(2.43,-2.8)(2.46,4.6)(2.49,1.0)(2.52,9.0)(2.55,2.9)(2.58,-1.3)(2.61,5.0)(2.64,6.2)(2.67,-2.4)(2.70,3.6)(2.73,0.5)(2.76,8.4)(2.79,4.8)(2.82,-2.2)(2.85,2.7)(2.88,6.7)(2.91,-0.6)(2.94,4.3)(2.97,9.2)
(3.00,6.5)(3.03,-2.3)(3.06,4.2)(3.09,8.6)(3.12,0.1)(3.15,2.8)(3.18,6.1)(3.21,-1.8)(3.24,4.6)(3.27,8.0)(3.30,-0.6)(3.33,2.5)(3.36,6.8)(3.39,-2.6)(3.42,4.9)(3.45,0.8)(3.48,9.2)(3.51,2.9)(3.54,-0.9)(3.57,6.3)(3.60,4.3)(3.63,-2.2)(3.66,7.3)(3.69,1.7)(3.72,5.2)(3.75,-0.3)(3.78,8.7)(3.81,2.7)(3.84,-2.8)(3.87,6.0)(3.90,4.0)(3.93,-1.2)(3.96,7.7)(3.99,0.0)
(4.02,6.2)(4.05,-0.4)(4.08,8.4)(4.11,5.6)(4.14,0.2)(4.17,2.3)(4.20,6.4)(4.23,-0.8)(4.26,9.2)(4.29,5.8)(4.32,-0.2)(4.35,-2.6)(4.38,6.1)(4.41,3.6)(4.44,0.0)(4.47,7.3)(4.50,5.5)(4.53,-0.6)(4.56,1.2)(4.59,6.3)(4.62,-1.0)(4.65,8.2)(4.68,5.2)(4.71,-0.3)(4.74,4.4)(4.77,6.7)(4.80,0.6)(4.83,-1.6)(4.86,5.9)(4.89,2.8)(4.92,-0.4)(4.95,7.2)(4.98,4.7)
(5.01,-0.1)(5.04,6.1)(5.07,0.9)(5.10,5.0)(5.13,-1.4)(5.16,8.8)(5.19,6.6)(5.22,-0.5)(5.25,4.2)(5.28,0.4)(5.31,6.9)(5.34,-1.9)(5.37,2.3)(5.40,5.6)(5.43,-0.8)(5.46,4.8)(5.49,-2.8)(5.52,6.3)(5.55,0.7)(5.58,7.4)(5.61,-1.1)(5.64,5.3)(5.67,1.9)(5.70,-0.3)(5.73,9.3)(5.76,6.0)(5.79,-1.6)(5.82,4.5)(5.85,0.2)(5.88,7.0)(5.91,-0.9)(5.94,5.7)(5.97,1.2)
(6.00,6.4)(6.03,-0.6)(6.06,4.0)(6.09,0.9)(6.12,7.6)(6.15,-1.7)(6.18,5.8)(6.21,2.6)(6.24,-0.2)(6.27,6.7)(6.30,8.4)(6.33,-1.2)(6.36,5.1)(6.39,0.3)(6.42,6.2)(6.45,-2.1)(6.48,4.6)(6.51,-3.0)(6.54,7.1)(6.57,0.6)(6.60,5.5)(6.63,-0.9)(6.66,1.8)(6.69,6.9)(6.72,-1.5)(6.75,9.0)(6.78,4.3)(6.81,0.1)(6.84,6.0)(6.87,-0.4)(6.90,3.7)(6.93,-1.9)(6.96,5.9)(6.99,1.1)
(7.02,5.4)(7.05,-0.7)(7.08,6.8)(7.11,0.5)(7.14,4.1)(7.17,-1.3)(7.20,8.1)(7.23,6.2)(7.26,-0.1)(7.29,2.1)(7.32,5.0)(7.35,-2.2)(7.38,7.3)(7.41,0.8)(7.44,5.7)(7.47,-0.5)(7.50,4.4)(7.53,-2.6)(7.56,6.5)(7.59,1.3)(7.62,5.9)(7.65,-1.0)(7.68,9.4)(7.71,4.9)(7.74,0.2)(7.77,6.3)(7.80,-1.6)(7.83,2.7)(7.86,5.2)(7.89,-0.3)(7.92,7.0)(7.95,0.9)(7.98,-3.1)
(8.01,6.0)(8.04,-0.9)(8.07,4.6)(8.10,0.4)(8.13,7.5)(8.16,-1.8)(8.19,5.6)(8.22,1.6)(8.25,-0.2)(8.28,6.4)(8.31,8.9)(8.34,-1.1)(8.37,4.0)(8.40,0.7)(8.43,6.9)(8.46,-2.3)(8.49,5.3)(8.52,2.5)(8.55,-0.6)(8.58,6.1)(8.61,-2.9)(8.64,4.8)(8.67,1.0)(8.70,7.2)(8.73,-1.4)(8.76,5.8)(8.79,0.1)(8.82,8.2)(8.85,3.8)(8.88,-0.4)(8.91,6.6)(8.94,-1.9)(8.97,5.1)
(9.00,0.6)(9.03,6.2)(9.06,-1.0)(9.09,4.3)(9.12,9.2)(9.15,0.2)(9.18,5.7)(9.21,-2.4)(9.24,6.8)(9.27,1.5)(9.30,4.9)(9.33,-0.7)(9.36,7.7)(9.39,2.4)(9.42,5.4)(9.45,-1.5)(9.48,6.4)(9.51,0.4)(9.54,8.3)(9.57,-0.2)(9.60,5.8)(9.63,1.9)(9.66,6.6)(9.69,-1.2)(9.72,5.1)(9.75,0.8)(9.78,7.3)(9.81,-0.5)(9.84,6.0)(9.87,2.2)(9.90,5.3)(9.93,-2.8)(9.96,6.9)(9.99,0.1)
(10.02,6.5)(10.05,-0.6)(10.08,5.3)(10.11,1.3)(10.14,7.9)(10.17,0.3)(10.20,6.0)(10.23,-1.1)(10.26,5.6)(10.29,0.9)(10.32,8.6)(10.35,6.8)(10.38,-0.3)(10.41,4.9)(10.44,2.0)(10.47,6.3)(10.50,-1.7)(10.53,7.1)(10.56,0.6)(10.59,3.3)(10.62,5.8)(10.65,-0.8)(10.68,6.6)(10.71,1.6)(10.74,9.1)(10.77,5.2)(10.80,-0.1)(10.83,6.2)(10.86,-2.5)(10.89,7.4)(10.92,0.4)(10.95,5.5)(10.98,1.1)
(11.01,6.1)(11.04,-0.4)(11.07,5.4)(11.10,0.6)(11.13,6.9)(11.16,-0.9)(11.19,3.0)(11.22,6.3)(11.25,0.2)(11.28,5.7)(11.31,-1.6)(11.34,7.0)(11.37,0.8)(11.40,6.0)(11.43,-0.2)(11.46,9.2)(11.49,5.5)(11.52,2.6)(11.55,6.6)(11.58,-0.7)(11.61,5.9)(11.64,0.4)(11.67,-2.2)(11.70,6.4)(11.73,0.0)(11.76,5.2)(11.79,7.8)(11.82,-0.5)(11.85,6.2)(11.88,1.2)(11.91,5.6)(11.94,-1.2)(11.97,6.8)
(12.00,0.3)(12.03,6.5)(12.06,-0.5)(12.09,7.2)(12.12,1.1)(12.15,5.8)(12.18,0.6)(12.21,8.5)(12.24,6.9)(12.27,-0.2)(12.30,6.2)(12.33,1.5)(12.36,7.5)(12.39,0.2)(12.42,4.4)(12.45,6.6)(12.48,-1.6)(12.51,7.0)(12.54,0.9)(12.57,6.3)(12.60,1.3)(12.63,9.0)(12.66,6.8)(12.69,0.4)(12.72,2.8)(12.75,6.1)(12.78,-0.6)(12.81,7.3)(12.84,0.7)(12.87,6.6)(12.90,1.0)(12.93,5.6)(12.96,-0.2)
(12.99,6.4)(13.02,-0.3)(13.05,5.2)(13.08,0.2)(13.11,6.0)(13.14,-1.1)(13.17,4.7)(13.20,7.6)(13.23,-0.6)(13.26,5.5)(13.29,2.6)(13.32,6.2)(13.35,-1.5)(13.38,5.0)(13.41,0.1)(13.44,5.8)(13.47,-0.8)(13.50,9.2)(13.53,4.6)(13.56,-0.2)(13.59,6.3)(13.62,-2.4)(13.65,5.4)(13.68,0.3)(13.71,3.4)(13.74,-1.3)(13.77,5.9)(13.80,-0.4)(13.83,4.9)(13.86,7.9)(13.89,-0.9)(13.92,5.6)(13.95,1.5)(13.98,-0.1)
(14.01,5.6)(14.04,-0.6)(14.07,8.6)(14.10,4.8)(14.13,-1.4)(14.16,6.1)(14.19,0.3)(14.22,7.3)(14.25,5.2)(14.28,-0.9)(14.31,4.5)(14.34,9.0)(14.37,-1.8)(14.40,5.9)(14.43,0.6)(14.46,4.1)(14.49,-2.2)(14.52,6.7)(14.55,-0.5)(14.58,5.0)(14.61,1.0)(14.64,3.6)(14.67,-1.6)(14.70,7.0)(14.73,4.4)(14.76,-2.5)(14.79,5.4)(14.82,-0.2)(14.85,8.2)(14.88,3.9)(14.91,-1.2)(14.94,6.2)(14.97,2.2)
(15.00,-0.8)(15.03,5.6)(15.06,-2.0)(15.09,4.2)(15.12,9.3)(15.15,-1.3)(15.18,5.1)(15.21,4.6)(15.24,-1.7)(15.27,5.3)(15.30,-0.9)(15.33,4.0)(15.36,2.1)(15.39,-2.3)(15.42,4.9)(15.45,8.1)(15.48,-1.4)(15.51,4.4)(15.54,-1.9)(15.57,5.5)(15.60,1.8)(15.63,-1.1)(15.66,4.7)(15.69,-2.6)(15.72,3.8)(15.75,8.8)(15.78,-1.6)(15.81,4.5)(15.84,-0.9)(15.87,5.0)(15.90,-2.1)(15.93,4.3)(15.96,2.5)(15.99,-1.5)
(16.02,4.5)(16.05,-1.7)(16.08,4.1)(16.11,-2.0)(16.14,4.7)(16.17,-1.5)(16.20,4.3)(16.23,-1.9)(16.26,3.9)(16.29,-2.2)(16.32,4.6)(16.35,-1.6)(16.38,4.2)(16.41,-1.8)(16.44,2.5)(16.47,4.4)(16.50,-1.4)(16.53,4.0)(16.56,-2.1)(16.59,4.8)(16.62,-1.7)(16.65,4.3)(16.68,-2.3)(16.71,4.5)(16.74,9.2)(16.77,-1.9)(16.80,4.1)(16.83,-1.5)(16.86,4.6)(16.89,-2.0)(16.92,4.3)(16.95,-1.8)(16.98,3.8)
(17.01,-1.6)(17.04,4.4)(17.07,-2.1)(17.10,4.7)(17.13,-1.8)(17.16,4.2)(17.19,-1.4)(17.22,4.5)(17.25,-2.2)(17.28,4.0)(17.31,-1.9)(17.34,4.6)(17.37,-1.7)(17.40,4.3)(17.43,-2.4)(17.46,3.9)(17.49,-2.0)(17.52,3.6)(17.55,-2.6)(17.58,4.2)(17.61,-1.8)(17.64,3.4)(17.67,-2.8)(17.70,4.5)(17.73,-2.2)(17.76,3.7)(17.79,-2.5)(17.82,4.1)(17.85,-1.5)(17.88,4.8)(17.91,-2.1)(17.94,3.9)(17.97,-1.7)
(18.00,4.5)(18.03,-1.3)(18.06,4.9)(18.09,-1.0)(18.12,5.0)(18.15,-0.7)(18.18,5.4)(18.21,-0.4)(18.24,5.7)(18.27,-0.2)(18.30,5.9)(18.33,0.1)(18.36,6.2)(18.39,0.3)(18.42,6.5)(18.45,2.3)(18.48,6.7)(18.51,0.6)(18.54,8.8)(18.57,6.4)(18.60,-0.9)(18.63,9.3)(18.66,5.6)(18.69,1.2)(18.72,7.4)(18.75,-0.4)(18.78,6.6)(18.81,8.6)(18.84,0.8)(18.87,5.1)(18.90,2.0)(18.93,7.0)(18.96,0.2)(18.99,6.2)
(19.02,0.4)(19.05,6.9)(19.08,-0.3)(19.11,5.8)(19.14,1.1)(19.17,7.6)(19.20,0.7)(19.23,6.3)(19.26,-0.6)(19.29,5.4)(19.32,1.4)(19.35,6.7)(19.38,2.8)(19.41,7.2)(19.44,0.0)(19.47,6.0)(19.50,0.9)(19.53,4.9)(19.56,-0.5)(19.59,6.5)(19.62,1.3)(19.65,7.8)(19.68,0.3)(19.71,5.6)(19.74,-0.8)(19.77,6.8)(19.80,8.7)(19.83,0.6)(19.86,6.1)(19.89,2.3)(19.92,9.0)(19.95,5.2)(19.98,0.1)
(20.01,6.4)(20.04,0.5)(20.07,9.2)(20.10,4.9)(20.13,-0.6)(20.16,6.8)(20.19,-1.5)(20.22,8.8)(20.25,4.2)(20.28,0.8)(20.31,6.0)(20.34,-2.2)(20.37,3.7)(20.40,9.0)(20.43,-0.2)(20.46,5.3)(20.49,3.0)(20.52,-2.8)(20.55,8.3)(20.58,2.4)(20.61,-3.1)(20.64,1.9)(20.67,6.2)(20.70,-0.4)(20.73,5.9)(20.76,0.2)(20.79,6.4)(20.82,-0.3)(20.85,6.6)(20.88,0.5)(20.91,6.3)(20.94,0.4)(20.97,7.0)
(21.00,0.6)(21.03,6.8)(21.06,0.3)(21.09,7.2)(21.12,0.9)(21.15,6.5)(21.18,1.1)(21.21,7.0)(21.24,0.4)(21.27,6.6)(21.30,4.0)(21.33,0.8)(21.36,-2.3)(21.39,7.3)(21.42,0.5)(21.45,6.9)(21.48,1.2)(21.51,6.4)(21.54,0.1)(21.57,7.1)(21.60,0.7)(21.63,6.7)(21.66,1.0)(21.69,7.4)(21.72,0.3)(21.75,6.8)(21.78,0.9)(21.81,6.2)(21.84,0.6)(21.87,7.0)(21.90,1.2)(21.93,6.6)(21.96,0.2)(21.99,6.9)
(22.02,0.8)(22.05,7.1)(22.08,0.4)(22.11,6.5)(22.14,1.0)(22.17,6.9)(22.20,-0.1)(22.23,7.3)(22.26,0.7)(22.29,6.7)(22.32,1.3)(22.35,6.2)(22.38,0.5)(22.41,7.0)(22.44,-0.2)(22.47,6.4)(22.50,0.9)(22.53,7.2)(22.56,0.6)(22.59,6.8)(22.62,1.1)(22.65,8.1)(22.68,0.3)(22.71,6.6)(22.74,1.0)(22.77,7.0)(22.80,0.7)(22.83,6.3)(22.86,1.2)(22.89,7.2)(22.92,0.5)(22.95,6.9)(22.98,0.9)
(23.01,7.3)(23.04,1.1)(23.07,6.9)(23.10,0.6)(23.13,7.5)(23.16,1.3)(23.19,7.0)(23.22,0.8)(23.25,6.6)(23.28,1.2)(23.31,7.2)(23.34,0.4)(23.37,7.4)(23.40,1.0)(23.43,6.8)(23.46,0.9)(23.49,7.1)(23.52,1.4)(23.55,6.5)(23.58,0.7)(23.61,9.0)(23.64,7.3)(23.67,1.1)(23.70,6.1)(23.73,0.5)(23.76,7.0)(23.79,-0.3)(23.82,6.6)(23.85,2.6)(23.88,7.1)(23.91,-1.5)(23.94,4.7)(23.97,0.8)
};
\addplot[dots] coordinates {
(0.015,4.3)(0.045,9.3)(0.075,-0.1)(0.105,2.7)(0.135,-2.8)(0.165,7.0)(0.195,3.1)(0.225,8.3)(0.255,0.9)(0.285,5.9)(0.315,-1.0)(0.345,2.3)(0.375,9.3)(0.405,4.8)(0.435,-2.4)(0.465,6.6)(0.495,1.1)(0.525,3.9)(0.555,8.6)(0.585,-0.5)(0.615,5.0)(0.645,3.0)(0.675,-2.9)(0.705,7.3)(0.735,1.6)(0.765,9.2)(0.795,4.1)(0.825,-1.6)(0.855,6.5)(0.885,2.6)(0.915,-0.4)(0.945,8.2)(0.975,4.5)
(1.015,-1.6)(1.045,8.7)(1.075,3.0)(1.105,0.4)(1.135,7.4)(1.165,-2.3)(1.195,3.8)(1.225,9.2)(1.255,1.9)(1.285,5.4)(1.315,-2.9)(1.345,3.5)(1.375,8.5)(1.405,6.2)(1.435,-1.0)(1.465,2.9)(1.495,9.0)(1.525,4.0)(1.555,-2.5)(1.585,6.4)(1.615,0.7)(1.645,3.7)(1.675,9.3)(1.705,-1.4)(1.735,7.7)(1.765,2.2)(1.795,4.4)(1.825,-2.6)(1.855,8.8)(1.885,3.0)(1.915,0.9)(1.945,5.8)(1.975,-2.0)
(2.015,2.4)(2.045,-2.0)(2.075,7.0)(2.105,4.5)(2.135,0.6)(2.165,9.1)(2.195,-2.5)(2.225,5.0)(2.255,2.7)(2.285,-0.9)(2.315,6.3)(2.345,8.7)(2.375,1.4)(2.405,-2.1)(2.435,4.8)(2.465,2.5)(2.495,7.7)(2.525,-1.6)(2.555,4.6)(2.585,0.0)(2.615,8.9)(2.645,2.9)(2.675,5.4)(2.705,-2.6)(2.735,6.5)(2.765,3.1)(2.795,-0.3)(2.825,4.9)(2.855,8.8)(2.885,-1.7)(2.915,2.2)(2.945,5.6)(2.975,-2.9)
(3.015,4.8)(3.045,8.9)(3.075,-0.5)(3.105,6.6)(3.135,2.4)(3.165,-2.7)(3.195,4.5)(3.225,7.1)(3.255,0.4)(3.285,-2.0)(3.315,6.0)(3.345,4.4)(3.375,9.1)(3.405,-0.8)(3.435,2.8)(3.465,6.5)(3.495,-2.4)(3.525,4.7)(3.555,8.1)(3.585,0.3)(3.615,6.9)(3.645,2.6)(3.675,-1.5)(3.705,4.1)(3.735,6.2)(3.765,-2.7)(3.795,0.6)(3.825,5.0)(3.855,8.5)(3.885,-0.4)(3.915,6.4)(3.945,2.9)(3.975,-2.1)
(4.015,5.9)(4.045,-0.1)(4.075,3.0)(4.105,6.5)(4.135,-0.7)(4.165,8.9)(4.195,5.4)(4.225,0.4)(4.255,-1.9)(4.285,6.0)(4.315,4.3)(4.345,-0.3)(4.375,7.7)(4.405,6.4)(4.435,-0.9)(4.465,1.8)(4.495,5.7)(4.525,-2.9)(4.555,6.2)(4.585,0.1)(4.615,4.0)(4.645,-0.5)(4.675,6.6)(4.705,8.6)(4.735,0.9)(4.765,5.0)(4.795,-1.3)(4.825,6.3)(4.855,0.3)(4.885,3.9)(4.915,-0.8)(4.945,5.6)(4.975,1.4)
(5.015,5.5)(5.045,-0.4)(5.075,6.8)(5.105,-1.2)(5.135,0.6)(5.165,4.6)(5.195,5.9)(5.225,-2.2)(5.255,7.1)(5.285,0.0)(5.315,5.2)(5.345,-0.7)(5.375,8.5)(5.405,-1.5)(5.435,6.4)(5.465,3.9)(5.495,0.8)(5.525,-0.2)(5.555,5.6)(5.585,2.7)(5.615,6.1)(5.645,-1.8)(5.675,4.7)(5.705,1.0)(5.735,7.3)(5.765,-0.6)(5.795,5.4)(5.825,-2.9)(5.855,6.6)(5.885,0.5)(5.915,4.2)(5.945,-1.1)(5.975,6.0)
(6.015,-0.3)(6.045,5.2)(6.075,7.0)(6.105,-1.4)(6.135,0.7)(6.165,6.3)(6.195,4.4)(6.225,-0.8)(6.255,9.2)(6.285,1.2)(6.315,5.7)(6.345,-2.0)(6.375,6.5)(6.405,0.0)(6.435,4.9)(6.465,2.2)(6.495,-0.6)(6.525,6.1)(6.555,-1.1)(6.585,5.3)(6.615,7.4)(6.645,0.4)(6.675,-2.4)(6.705,5.9)(6.735,3.5)(6.765,-0.5)(6.795,6.7)(6.825,1.0)(6.855,4.5)(6.885,-1.3)(6.915,6.3)(6.945,0.6)(6.975,-2.8)
(7.015,6.0)(7.045,0.3)(7.075,-1.9)(7.105,5.1)(7.135,7.6)(7.165,-0.4)(7.195,4.6)(7.225,1.1)(7.255,6.5)(7.285,-1.4)(7.315,8.7)(7.345,5.5)(7.375,-0.1)(7.405,3.8)(7.435,-2.1)(7.465,6.2)(7.495,0.9)(7.525,5.0)(7.555,-0.7)(7.585,2.8)(7.615,6.9)(7.645,-1.2)(7.675,4.3)(7.705,0.5)(7.735,5.8)(7.765,-2.3)(7.795,7.1)(7.825,-0.2)(7.855,6.4)(7.885,1.4)(7.915,4.8)(7.945,-0.9)(7.975,5.6)
(8.015,-0.5)(8.045,5.0)(8.075,1.2)(8.105,6.8)(8.135,-1.6)(8.165,4.4)(8.195,-0.3)(8.225,9.0)(8.255,5.9)(8.285,0.6)(8.315,-2.0)(8.345,6.3)(8.375,2.2)(8.405,5.2)(8.435,-0.8)(8.465,7.0)(8.495,0.2)(8.525,4.7)(8.555,-1.3)(8.585,5.7)(8.615,-2.6)(8.645,6.5)(8.675,0.9)(8.705,3.6)(8.735,-0.4)(8.765,7.6)(8.795,5.3)(8.825,-1.0)(8.855,6.0)(8.885,1.3)(8.915,4.1)(8.945,-2.2)(8.975,6.7)
(9.015,5.4)(9.045,-1.7)(9.075,7.1)(9.105,0.9)(9.135,6.0)(9.165,-0.4)(9.195,3.0)(9.225,6.3)(9.255,-1.0)(9.285,5.6)(9.315,0.5)(9.345,8.8)(9.375,-2.0)(9.405,4.6)(9.435,0.2)(9.465,6.7)(9.495,-0.9)(9.525,5.1)(9.555,1.4)(9.585,7.0)(9.615,-0.3)(9.645,6.2)(9.675,2.9)(9.705,0.6)(9.735,7.8)(9.765,5.5)(9.795,-1.4)(9.825,6.5)(9.855,0.3)(9.885,8.1)(9.915,-0.7)(9.945,5.8)(9.975,1.6)
(10.015,0.2)(10.045,7.3)(10.075,-1.2)(10.105,6.1)(10.135,0.8)(10.165,5.1)(10.195,1.7)(10.225,6.9)(10.255,-0.4)(10.285,8.2)(10.315,0.5)(10.345,5.7)(10.375,-0.9)(10.405,6.4)(10.435,1.4)(10.465,7.7)(10.495,-0.2)(10.525,5.3)(10.555,2.4)(10.585,6.0)(10.615,0.0)(10.645,8.9)(10.675,-1.5)(10.705,6.7)(10.735,0.9)(10.765,5.9)(10.795,-0.6)(10.825,4.6)(10.855,1.2)(10.885,6.3)(10.915,-0.3)(10.945,7.0)(10.975,0.7)
(11.015,0.5)(11.045,6.7)(11.075,-0.2)(11.105,5.8)(11.135,1.0)(11.165,6.4)(11.195,-1.3)(11.225,5.5)(11.255,0.7)(11.285,7.2)(11.315,-0.5)(11.345,6.0)(11.375,4.0)(11.405,0.1)(11.435,6.5)(11.465,-0.8)(11.495,5.7)(11.525,0.9)(11.555,8.4)(11.585,6.1)(11.615,-0.4)(11.645,5.3)(11.675,0.3)(11.705,6.9)(11.735,-1.0)(11.765,6.2)(11.795,0.8)(11.825,5.0)(11.855,-0.1)(11.885,6.6)(11.915,0.4)(11.945,5.9)(11.975,-0.6)
(12.015,7.0)(12.045,0.8)(12.075,6.1)(12.105,-0.3)(12.135,6.8)(12.165,1.4)(12.195,7.6)(12.225,0.5)(12.255,5.6)(12.285,1.0)(12.315,6.7)(12.345,-0.7)(12.375,7.1)(12.405,0.6)(12.435,6.4)(12.465,2.3)(12.495,7.4)(12.525,0.0)(12.555,6.6)(12.585,1.2)(12.615,5.9)(12.645,0.7)(12.675,7.2)(12.705,-0.4)(12.735,6.9)(12.765,1.6)(12.795,6.3)(12.825,0.2)(12.855,7.8)(12.885,0.9)(12.915,6.5)(12.945,1.3)(12.975,6.0)
(13.005,5.8)(13.035,-0.7)(13.065,6.3)(13.095,0.0)(13.125,5.3)(13.155,-0.5)(13.185,6.1)(13.215,-1.0)(13.245,4.9)(13.275,0.3)(13.305,5.6)(13.335,-0.2)(13.365,6.4)(13.395,-1.3)(13.425,5.1)(13.455,0.2)(13.485,5.9)(13.515,-0.6)(13.545,4.5)(13.575,1.0)(13.605,6.0)(13.635,-0.9)(13.665,5.5)(13.695,8.5)(13.725,-0.3)(13.755,5.2)(13.785,-1.6)(13.815,6.2)(13.845,0.4)(13.875,5.7)(13.905,-0.7)(13.935,4.8)(13.965,0.1)
(14.015,-0.2)(14.045,5.3)(14.075,-1.0)(14.105,6.6)(14.135,0.5)(14.165,5.7)(14.195,-1.5)(14.225,4.9)(14.255,9.2)(14.285,-0.6)(14.315,6.3)(14.345,0.1)(14.375,5.1)(14.405,-1.2)(14.435,7.8)(14.465,4.6)(14.495,-0.8)(14.525,5.5)(14.555,-2.0)(14.585,3.9)(14.615,6.0)(14.645,-0.4)(14.675,4.8)(14.705,-1.7)(14.735,5.2)(14.765,1.1)(14.795,4.2)(14.825,-2.6)(14.855,5.9)(14.885,-1.0)(14.915,4.7)(14.945,-1.9)(14.975,5.4)
(15.015,4.4)(15.045,-1.5)(15.075,5.8)(15.105,-0.6)(15.135,4.7)(15.165,-2.2)(15.195,3.9)(15.225,-1.2)(15.255,5.0)(15.285,-1.8)(15.315,4.3)(15.345,8.9)(15.375,-1.0)(15.405,4.6)(15.435,-2.4)(15.465,5.2)(15.495,-1.6)(15.525,4.1)(15.555,1.9)(15.585,-1.3)(15.615,4.8)(15.645,-2.0)(15.675,5.5)(15.705,-1.7)(15.735,4.4)(15.765,-0.8)(15.795,3.6)(15.825,-2.3)(15.855,4.9)(15.885,-1.4)(15.915,4.6)(15.945,-1.9)(15.975,4.2)
(16.015,-1.9)(16.045,4.3)(16.075,-1.6)(16.105,4.6)(16.135,-2.1)(16.165,4.0)(16.195,-1.8)(16.225,4.7)(16.255,-1.4)(16.285,4.2)(16.315,-2.0)(16.345,4.4)(16.375,-1.7)(16.405,3.8)(16.435,-2.2)(16.465,4.5)(16.495,-1.9)(16.525,4.3)(16.555,-1.5)(16.585,4.6)(16.615,-2.0)(16.645,4.1)(16.675,-1.8)(16.705,4.4)(16.735,-1.6)(16.765,4.7)(16.795,-2.2)(16.825,4.2)(16.855,-1.7)(16.885,4.5)(16.915,-1.9)(16.945,4.0)(16.975,-2.0)
(17.015,4.3)(17.045,-1.9)(17.075,4.6)(17.105,-1.5)(17.135,4.1)(17.165,-2.0)(17.195,4.4)(17.225,-1.7)(17.255,4.8)(17.285,-2.3)(17.315,4.2)(17.345,-1.6)(17.375,4.5)(17.405,-2.1)(17.435,4.0)(17.465,-1.8)(17.495,4.4)(17.525,-2.4)(17.555,3.8)(17.585,-1.9)(17.615,4.6)(17.645,-2.7)(17.675,3.5)(17.705,-2.0)(17.735,4.3)(17.765,-2.4)(17.795,4.0)(17.825,-1.6)(17.855,3.6)(17.885,-2.9)(17.915,4.4)(17.945,-2.2)(17.975,4.7)
(18.015,-1.1)(18.045,4.7)(18.075,-0.9)(18.105,5.2)(18.135,-0.6)(18.165,5.1)(18.195,-0.3)(18.225,5.5)(18.255,0.0)(18.285,6.0)(18.315,-0.1)(18.345,6.1)(18.375,0.4)(18.405,6.4)(18.435,0.5)(18.465,6.9)(18.495,1.0)(18.525,9.2)(18.555,0.3)(18.585,6.8)(18.615,1.5)(18.645,5.9)(18.675,-0.3)(18.705,7.0)(18.735,0.9)(18.765,6.2)(18.795,2.2)(18.825,7.5)(18.855,-0.6)(18.885,6.5)(18.915,0.6)(18.945,5.5)(18.975,1.3)
(19.015,6.6)(19.045,1.0)(19.075,7.3)(19.105,-0.1)(19.135,6.2)(19.165,0.6)(19.195,5.3)(19.225,1.5)(19.255,7.0)(19.285,0.2)(19.315,6.5)(19.345,-0.7)(19.375,5.8)(19.405,0.9)(19.435,7.4)(19.465,2.5)(19.495,6.3)(19.525,0.4)(19.555,5.6)(19.585,1.2)(19.615,7.1)(19.645,-0.2)(19.675,6.4)(19.705,0.7)(19.735,5.1)(19.765,1.4)(19.795,6.9)(19.825,0.0)(19.855,7.6)(19.885,0.8)(19.915,6.0)(19.945,-0.5)(19.975,8.4)
(20.015,5.8)(20.045,1.1)(20.075,6.9)(20.105,-0.2)(20.135,8.6)(20.165,4.6)(20.195,0.6)(20.225,6.3)(20.255,-1.1)(20.285,9.2)(20.315,3.4)(20.345,0.3)(20.375,5.7)(20.405,-1.8)(20.435,7.6)(20.465,2.7)(20.495,-0.5)(20.525,8.9)(20.555,-2.4)(20.585,5.0)(20.615,2.0)(20.645,-3.2)(20.675,6.5)(20.705,0.6)(20.735,6.1)(20.765,-0.1)(20.795,6.8)(20.825,0.4)(20.855,6.2)(20.885,0.8)(20.915,7.1)(20.945,0.2)(20.975,6.6)
(21.015,7.1)(21.045,0.9)(21.075,6.4)(21.105,0.2)(21.135,7.3)(21.165,0.7)(21.195,6.6)(21.225,1.2)(21.255,7.0)(21.285,0.5)(21.315,6.5)(21.345,0.9)(21.375,7.2)(21.405,0.1)(21.435,6.7)(21.465,1.0)(21.495,7.4)(21.525,0.6)(21.555,6.3)(21.585,1.1)(21.615,6.9)(21.645,0.4)(21.675,7.2)(21.705,0.8)(21.735,6.5)(21.765,0.3)(21.795,7.0)(21.825,1.2)(21.855,6.6)(21.885,0.7)(21.915,7.3)(21.945,0.5)(21.975,6.8)
(22.015,6.6)(22.045,0.6)(22.075,7.2)(22.105,1.1)(22.135,6.9)(22.165,0.3)(22.195,6.5)(22.225,1.0)(22.255,7.4)(22.285,0.8)(22.315,6.8)(22.345,0.2)(22.375,7.1)(22.405,1.2)(22.435,6.6)(22.465,0.7)(22.495,7.3)(22.525,1.3)(22.555,6.9)(22.585,0.5)(22.615,7.0)(22.645,0.9)(22.675,6.4)(22.705,1.1)(22.735,7.2)(22.765,0.4)(22.795,6.7)(22.825,1.0)(22.855,7.5)(22.885,0.8)(22.915,6.8)(22.945,1.2)(22.975,7.1)
(23.015,1.0)(23.045,7.0)(23.075,1.4)(23.105,7.3)(23.135,0.7)(23.165,6.8)(23.195,1.2)(23.225,7.5)(23.255,0.9)(23.285,7.1)(23.315,1.1)(23.345,6.9)(23.375,0.6)(23.405,7.3)(23.435,1.3)(23.465,7.0)(23.495,0.8)(23.525,7.2)(23.555,1.0)(23.585,6.7)(23.615,1.2)(23.645,7.4)(23.675,0.5)(23.705,6.9)(23.735,1.1)(23.765,7.2)(23.795,0.7)(23.825,7.0)(23.855,1.3)(23.885,6.5)(23.915,0.9)(23.945,7.1)(23.975,0.4)
};
\end{axis}

\node[rotate=90, font=\tickfont, inner sep=0pt] at (123.5pt,-522pt) {Azimuth Full};
\node[rotate=90, font=\tickfont, inner sep=0pt] at (123.5pt,-802pt) {Azimuth Half};
\node[anchor=north east, font=\tickfont, inner sep=0pt] at (1214.5pt,-950.3pt) {2020-Feb-02};
\end{tikzpicture}
\end{document}
